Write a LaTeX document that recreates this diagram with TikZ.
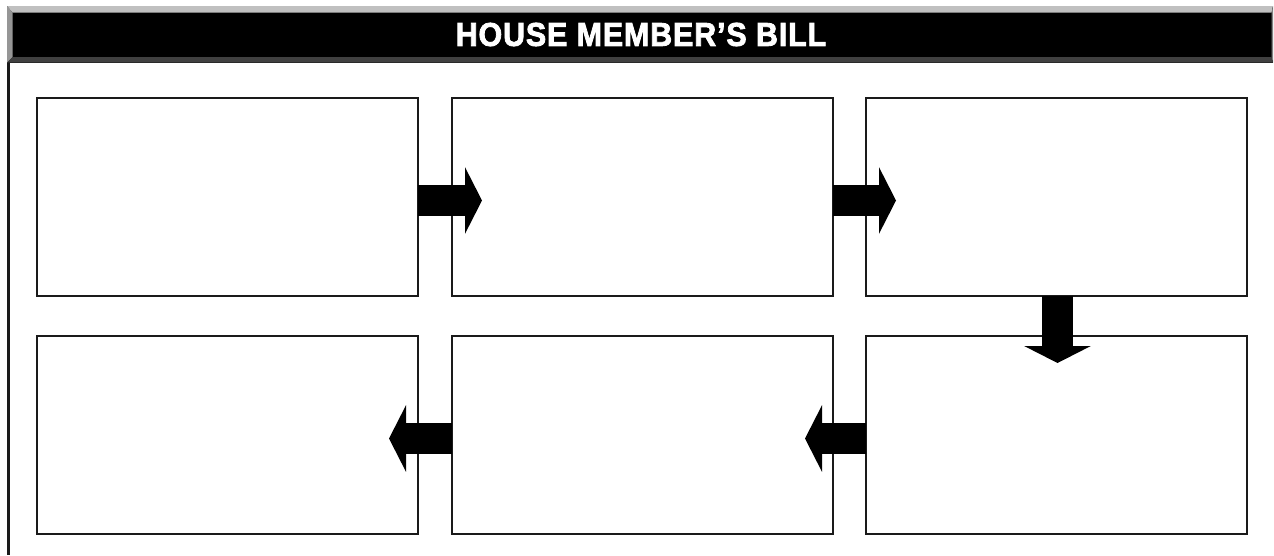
\documentclass[tikz,border=0pt]{standalone}
\usepackage{fontspec}
\usepackage{tikz}
\usetikzlibrary{arrows.meta, positioning}
\newfontfamily\headfont{Liberation Sans}[BoldFeatures={FakeBold=2.5, LetterSpace=3}]
\definecolor{BevelTop}{RGB}{192,192,192}
\definecolor{BevelLeft}{RGB}{150,150,150}
\definecolor{BevelRight}{RGB}{130,130,130}
\definecolor{BevelBottom}{RGB}{64,64,64}
\definecolor{FrameLine}{RGB}{26,26,26}
\tikzset{
  billbox/.style={
    draw=FrameLine,
    line width=2.5pt,
    minimum width=381pt,
    minimum height=198pt,
    inner sep=0pt,
    outer sep=0pt
  },
  fatarrow/.style={
    line width=31pt,
    line cap=butt,
    -{Triangle[length=17pt, width=66pt]}
  }
}

\begin{document}
\begin{tikzpicture}[x=1pt, y=-1pt]
  \useasboundingbox (0,0) rectangle (1274,555);

  % header bar with bevelled edges
  \fill[black] (7,6) rectangle (1273,62.7);
  \fill[BevelTop] (7,6) -- (1273,6) -- (1271.5,12.7) -- (12.7,12.7) -- cycle;
  \fill[BevelLeft] (7,6) -- (12.7,12.7) -- (12.7,57) -- (7,62.7) -- cycle;
  \fill[BevelRight] (1273,6) -- (1271.5,12.7) -- (1271.5,57) -- (1273,62.7) -- cycle;
  \fill[BevelBottom] (7,62.7) -- (12.7,57) -- (1271.5,57) -- (1273,62.7) -- cycle;
  \node[
    text=white,
    inner sep=0pt,
    xscale=0.92,
    font=\headfont\bfseries\fontsize{33}{36}\selectfont
  ] (title) at (641,34.5) {HOUSE MEMBER’S BILL};

  % left rule
  \draw[FrameLine, line width=2.7pt] (8.7,62.7) -- (8.7,555);

  % boxes
  \node[billbox] (b1) at (227.5,197) {};
  \node[billbox, right=34pt of b1] (b2) {};
  \node[billbox, right=33pt of b2] (b3) {};
  \node[billbox, below=40pt of b3] (b6) {};
  \node[billbox, left=33pt of b6] (b5) {};
  \node[billbox, left=34pt of b5] (b4) {};

  % arrows
  \draw[fatarrow, shorten >=-30pt] ([yshift=-3.5pt]b1.east) -- ([yshift=-3.5pt]b2.west);
  \draw[fatarrow, shorten >=-30pt] ([yshift=-3.5pt]b2.east) -- ([yshift=-3.5pt]b3.west);
  \draw[fatarrow, shorten >=-27pt] ([xshift=1pt]b3.south) -- ([xshift=1pt]b6.north);
  \draw[fatarrow, shorten >=-28pt] ([yshift=-3.5pt]b6.west) -- ([yshift=-3.5pt]b5.east);
  \draw[fatarrow, shorten >=-29pt] ([yshift=-3.5pt]b5.west) -- ([yshift=-3.5pt]b4.east);
\end{tikzpicture}
\end{document}
